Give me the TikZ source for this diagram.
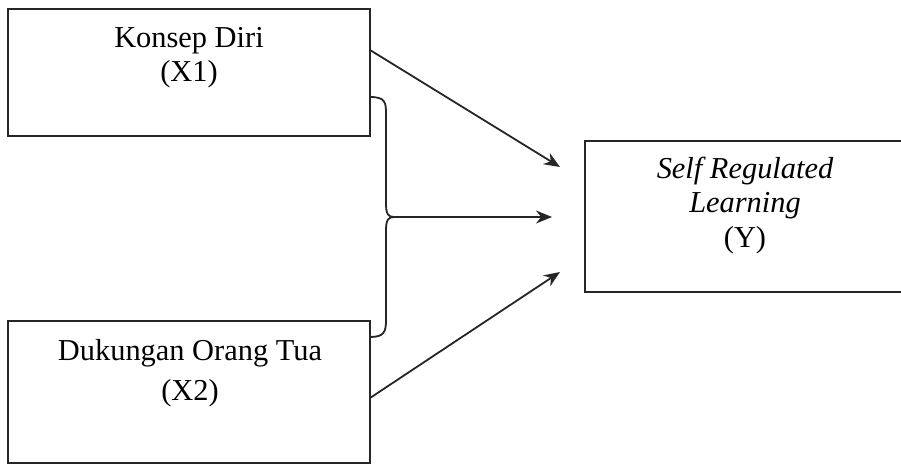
\documentclass[tikz,border=0pt]{standalone}
\usepackage{fontspec}
\setmainfont{Liberation Serif}
\usetikzlibrary{arrows.meta}
\begin{document}
\begin{tikzpicture}[x=0.5pt,y=-0.5pt,
  box/.style={draw=black!85, line width=1.1pt, rectangle, inner sep=0pt},
  lbl/.style={align=center, inner sep=0pt, font=\fontsize{15.2}{18}\selectfont},
  conn/.style={draw=black!85, line width=0.9pt},
  arr/.style={conn, -{Stealth[length=8pt,width=6.5pt]}}]
\useasboundingbox (0,0) rectangle (901,466);
\clip (0,0) rectangle (901,466);
\fill[white] (0,0) rectangle (901,466);
% boxes
\node[box, minimum width=181pt, minimum height=63.5pt] (x1) at (189,72.5) {};
\node[box, minimum width=181pt, minimum height=71pt] (x2) at (189,392) {};
\node[box, minimum width=165pt, minimum height=75.5pt] (y) at (750,216.5) {};
% texts
\node[lbl, anchor=base] (x1a) at (189,47) {Konsep Diri};
\node[lbl, anchor=base] (x1b) at (189,82) {(X1)};
\node[lbl, anchor=base] (x2a) at (190,360) {Dukungan Orang Tua};
\node[lbl, anchor=base] (x2b) at (190,400) {(X2)};
\node[lbl, anchor=base] (ya) at (745,178) {\itshape Self Regulated};
\node[lbl, anchor=base] (yb) at (745,212) {\itshape Learning};
\node[lbl, anchor=base] (yc) at (745,247) {(Y)};
% arrow endpoints
\coordinate (s1) at (370,50);
\coordinate (e1) at (560,167);
\coordinate (s2) at (370,398);
\coordinate (e2) at (560,272);
\coordinate (b1) at (370,97);
\coordinate (b2) at (370,337);
\coordinate (tip) at (394,217);
\coordinate (em) at (552,217);
% connectors
\draw[arr] (s1) -- (e1);
\draw[arr] (s2) -- (e2);
\draw[conn] (b1) .. controls (386,97) and (386,103) .. (386,115)
  -- (386,203) .. controls (386,214) and (388,217) .. (tip)
  .. controls (388,217) and (386,220) .. (386,231)
  -- (386,320) .. controls (386,332) and (384,337) .. (b2);
\draw[arr] (tip) -- (em);
\end{tikzpicture}
\end{document}
